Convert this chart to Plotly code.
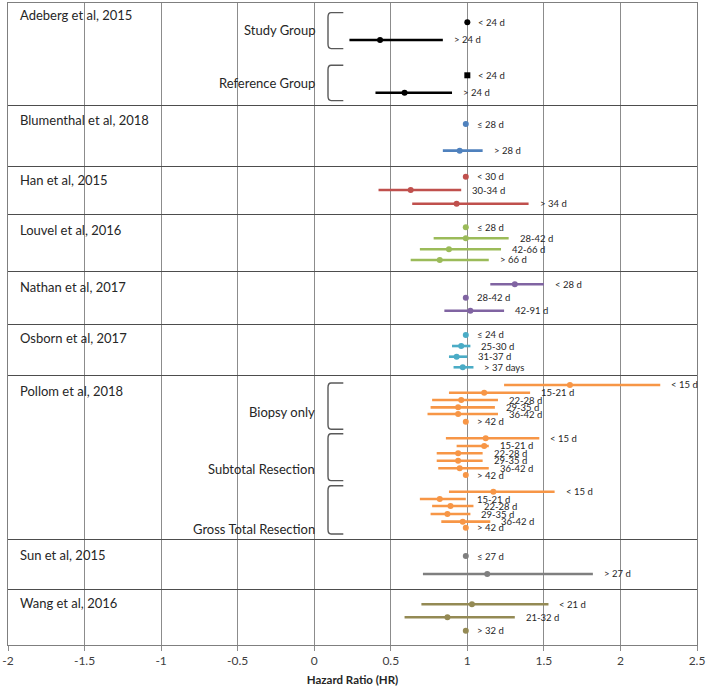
import plotly.graph_objects as go

# ---------------- data ----------------
studies = ["Adeberg et al, 2015", "Blumenthal et al, 2018", "Han et al, 2015",
           "Louvel et al, 2016", "Nathan et al, 2017", "Osborn et al, 2017",
           "Pollom et al, 2018", "Sun et al, 2015", "Wang et al, 2016"]
study_label_row = [1.9, 18.3, 27.6, 35.4, 44.2, 52.2, 60.4, 86.0, 93.4]
separator_rows = [16.04, 25.48, 32.87, 41.85, 50.0, 58.07, 83.64, 91.32]

row_study = (["Adeberg et al, 2015"] * 4 + ["Blumenthal et al, 2018"] * 2 +
             ["Han et al, 2015"] * 3 + ["Louvel et al, 2016"] * 4 +
             ["Nathan et al, 2017"] * 3 + ["Osborn et al, 2017"] * 4 +
             ["Pollom et al, 2018"] * 18 + ["Sun et al, 2015"] * 2 +
             ["Wang et al, 2016"] * 3)
row_label = ["< 24 d", "> 24 d", "< 24 d", "> 24 d",
             "≤ 28 d", "> 28 d",
             "< 30 d", "30-34 d", "> 34 d",
             "≤ 28 d", "28-42 d", "42-66 d", "> 66 d",
             "< 28 d", "28-42 d", "42-91 d",
             "≤ 24 d", "25-30 d", "31-37 d", "> 37 days",
             "< 15 d", "15-21 d", "22-28 d", "29-35 d", "36-42 d", "> 42 d",
             "< 15 d", "15-21 d", "22-28 d", "29-35 d", "36-42 d", "> 42 d",
             "< 15 d", "15-21 d", "22-28 d", "29-35 d", "36-42 d", "> 42 d",
             "≤ 27 d", "> 27 d",
             "< 21 d", "21-32 d", "> 32 d"]
hr = [1.00, 0.43, 1.00, 0.59,
      0.99, 0.95,
      0.99, 0.63, 0.93,
      0.99, 0.99, 0.88, 0.82,
      1.31, 0.99, 1.02,
      0.99, 0.96, 0.93, 0.97,
      1.67, 1.11, 0.96, 0.94, 0.94, 0.99,
      1.12, 1.11, 0.94, 0.94, 0.95, 0.99,
      1.17, 0.82, 0.89, 0.87, 0.97, 0.99,
      0.99, 1.13,
      1.03, 0.87, 0.99]
ci_low = [None, 0.23, None, 0.40,
          None, 0.84,
          None, 0.42, 0.64,
          None, 0.78, 0.69, 0.63,
          1.15, None, 0.85,
          None, 0.90, 0.88, 0.91,
          1.24, 0.88, 0.77, 0.76, 0.74, None,
          0.86, 0.93, 0.80, 0.80, 0.81, None,
          0.88, 0.69, 0.77, 0.76, 0.83, None,
          None, 0.71,
          0.70, 0.59, None]
ci_high = [None, 0.84, None, 0.90,
           None, 1.10,
           None, 0.96, 1.40,
           None, 1.27, 1.22, 1.14,
           1.50, None, 1.24,
           None, 1.02, 1.00, 1.04,
           2.26, 1.41, 1.20, 1.18, 1.20, None,
           1.47, 1.14, 1.10, 1.10, 1.14, None,
           1.57, 0.99, 1.04, 1.02, 1.15, None,
           None, 1.82,
           1.53, 1.31, None]
row_pos = [3.0, 5.76, 11.26, 13.97,
           18.85, 23.0,
           27.06, 29.13, 31.26,
           34.94, 36.65, 38.36, 40.03,
           43.82, 45.9, 47.93,
           51.71, 53.43, 55.09, 56.74,
           59.5, 60.7, 61.84, 62.98, 64.02, 65.22,
           67.8, 69.0, 70.14, 71.29, 72.48, 73.52,
           76.12, 77.26, 78.35, 79.6, 80.79, 81.73,
           86.14, 88.94,
           93.66, 95.68, 97.77]

group_names = ["Study Group", "Reference Group", "Biopsy only",
               "Subtotal Resection", "Gross Total Resection"]
group_label_row = [4.2, 12.4, 63.75, 72.6, 82.0]
group_top = [1.5, 9.7, 59.2, 67.1, 75.2]
group_bottom = [7.1, 15.2, 66.4, 74.4, 82.7]

x_ticks = [-2, -1.5, -1, -0.5, 0, 0.5, 1, 1.5, 2, 2.5]

# ---------------- styles ----------------
colors = {"Adeberg et al, 2015": "#000000", "Blumenthal et al, 2018": "#4F81BD",
          "Han et al, 2015": "#C0504D", "Louvel et al, 2016": "#9BBB59",
          "Nathan et al, 2017": "#8064A2", "Osborn et al, 2017": "#4BACC6",
          "Pollom et al, 2018": "#F79646", "Sun et al, 2015": "#7F7F7F",
          "Wang et al, 2016": "#948A54"}
FONT = "Lato, 'Open Sans', sans-serif"

fig = go.Figure()

for s in studies:
    idx = [i for i, st in enumerate(row_study) if st == s]
    xs = [hr[i] for i in idx]
    ys = [row_pos[i] for i in idx]
    plus = [(ci_high[i] - hr[i]) if ci_high[i] is not None else 0 for i in idx]
    minus = [(hr[i] - ci_low[i]) if ci_low[i] is not None else 0 for i in idx]
    symbols = ["circle"] * len(idx)
    if s == "Adeberg et al, 2015":
        symbols[2] = "square"
    fig.add_trace(go.Scatter(
        x=xs, y=ys, mode="markers",
        marker=dict(color=colors[s], size=6, symbol=symbols, line=dict(width=0)),
        error_x=dict(type="data", array=plus, arrayminus=minus, symmetric=False,
                     color=colors[s], thickness=2.6, width=0),
        showlegend=False, hoverinfo="skip"))

annotations = []
for i in range(len(hr)):
    xa = max(hr[i], ci_high[i] if ci_high[i] is not None else hr[i])
    annotations.append(dict(x=xa, y=row_pos[i], xref="x", yref="y", text=row_label[i],
                            showarrow=False, xanchor="left", yanchor="middle", xshift=9,
                            font=dict(family=FONT, size=9.5, color="#262626")))
for s, yy in zip(studies, study_label_row):
    annotations.append(dict(x=-1.935, y=yy, xref="x", yref="y", text=s, showarrow=False,
                            xanchor="left", yanchor="middle",
                            font=dict(family=FONT, size=13, color="#262626")))
for g, yy in zip(group_names, group_label_row):
    annotations.append(dict(x=0.015, y=yy, xref="x", yref="y", text=g, showarrow=False,
                            xanchor="right", yanchor="middle",
                            font=dict(family=FONT, size=13, color="#262626")))

shapes = []
bl, br = 0.09, 0.19
for t, b in zip(group_top, group_bottom):
    r = 0.7
    path = (f"M {br},{t} L {bl + 0.02},{t} Q {bl},{t} {bl},{t + r} "
            f"L {bl},{b - r} Q {bl},{b} {bl + 0.02},{b} L {br},{b}")
    shapes.append(dict(type="path", path=path, xref="x", yref="y",
                       line=dict(color="#595959", width=1.4)))

fig.update_layout(
    width=709, height=691,
    margin=dict(l=8, r=12, t=3, b=46),
    paper_bgcolor="white", plot_bgcolor="white",
    annotations=annotations, shapes=shapes,
    xaxis=dict(range=[-2, 2.5], tickvals=x_ticks, ticktext=[f"{v:g}" for v in x_ticks],
               automargin=False,
               showgrid=True, gridcolor="#8C8C8C", gridwidth=1, zeroline=False,
               showline=True, linecolor="#7F7F7F", linewidth=1, mirror=True,
               ticks="outside", ticklen=5, tickcolor="#8C8C8C",
               tickfont=dict(family=FONT, size=12, color="#404040"),
               title=dict(text="<b>Hazard Ratio (HR)</b>", standoff=8,
                          font=dict(family=FONT, size=11.5, color="#262626"))),
    yaxis=dict(range=[100, 0], tickvals=separator_rows, showticklabels=False,
               automargin=False,
               showgrid=True, gridcolor="#4D4D4D", gridwidth=1.3, zeroline=False,
               showline=True, linecolor="#7F7F7F", linewidth=1, mirror=True, ticks=""),
)

fig.write_html("out.html", config={"displayModeBar": False},
               post_script="document.body.style.margin='0';document.body.style.overflow='hidden';")
